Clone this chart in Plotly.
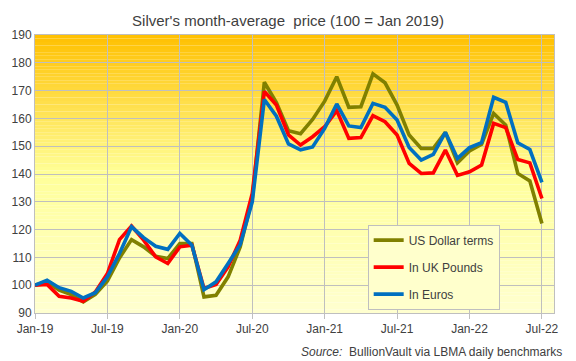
import plotly.graph_objects as go

months = ["Jan-19","Feb-19","Mar-19","Apr-19","May-19","Jun-19","Jul-19","Aug-19","Sep-19","Oct-19","Nov-19","Dec-19",
          "Jan-20","Feb-20","Mar-20","Apr-20","May-20","Jun-20","Jul-20","Aug-20","Sep-20","Oct-20","Nov-20","Dec-20",
          "Jan-21","Feb-21","Mar-21","Apr-21","May-21","Jun-21","Jul-21","Aug-21","Sep-21","Oct-21","Nov-21","Dec-21",
          "Jan-22","Feb-22","Mar-22","Apr-22","May-22","Jun-22","Jul-22"]

usd = [100, 101.2, 98.2, 96.6, 94.0, 96.7, 101.5, 109.8, 116.4, 113.8, 110.4, 109.6,
       115.0, 115.0, 95.8, 96.4, 103.0, 113.8, 131.2, 173.0, 165.7, 155.6, 154.5, 159.6,
       166.2, 175.0, 164.0, 164.2, 176.0, 172.8, 164.8, 154.0, 149.2, 149.2, 155.0, 144.0,
       148.3, 150.7, 161.8, 157.6, 140.2, 137.5, 122.2]
gbp = [100, 100.3, 96.0, 95.4, 94.2, 97.6, 104.2, 116.4, 121.3, 116.2, 110.2, 107.8,
       113.8, 114.4, 98.8, 100.3, 106.6, 116.2, 133.0, 169.7, 164.8, 154.1, 150.4, 153.4,
       157.0, 162.8, 152.8, 153.1, 161.0, 158.8, 154.0, 143.8, 140.2, 140.4, 148.6, 139.5,
       140.8, 143.2, 158.2, 156.7, 145.2, 144.0, 131.2]
eur = [100, 101.8, 99.1, 97.8, 95.4, 97.3, 103.0, 111.4, 121.0, 117.1, 114.0, 112.9,
       118.6, 114.4, 98.4, 101.2, 107.8, 114.6, 130.0, 166.8, 160.8, 150.8, 148.7, 149.7,
       156.4, 165.2, 157.3, 156.7, 165.4, 164.0, 159.4, 149.5, 145.0, 147.1, 155.0, 145.6,
       149.5, 151.3, 167.6, 165.8, 151.2, 148.8, 137.0]

series_names = ["US Dollar terms", "In UK Pounds", "In Euros"]
series_colors = ["#808000", "#FF0000", "#0070C0"]

tick_idx = [0, 6, 12, 18, 24, 30, 36, 42]
tick_labels = [months[i] for i in tick_idx]

x = list(range(len(months)))

fig = go.Figure()
for i, (name, vals, col) in enumerate(zip(series_names, [usd, gbp, eur], series_colors)):
    fig.add_trace(go.Scatter(x=x, y=vals, mode="lines", name=name,
                             line=dict(color=col, width=3.6), legendgroup=f"g{i}",
                             hovertext=months))

# vertical gradient background (top orange -> pale yellow)
stops = [(0.0, (0xFF, 0xC0, 0x00)), (0.5, (0xFF, 0xFF, 0x99)), (1.0, (0xFF, 0xFF, 0xD0))]
def grad(t):
    for (t0, c0), (t1, c1) in zip(stops[:-1], stops[1:]):
        if t <= t1:
            u = (t - t0) / (t1 - t0)
            return tuple(int(round(c0[j] + (c1[j] - c0[j]) * u)) for j in range(3))
    return stops[-1][1]

N = 80
shapes = []
for k in range(N):
    y0 = 90 + 100 * k / N
    y1 = 90 + 100 * (k + 1) / N
    t = 1 - (k + 0.5) / N  # 0 at top, 1 at bottom
    c = grad(t)
    shapes.append(dict(type="rect", xref="x", yref="y", x0=0, x1=43, y0=y0, y1=y1,
                       fillcolor="rgb(%d,%d,%d)" % c, line=dict(width=0), layer="below"))

fig.update_layout(
    width=576, height=361,
    margin=dict(l=33, r=22, t=35, b=48),
    paper_bgcolor="white",
    plot_bgcolor="rgba(0,0,0,0)",
    font=dict(family="Liberation Sans, Arial, sans-serif", size=12, color="#404040"),
    title=dict(text="Silver's month-average&nbsp; price (100 = Jan 2019)", x=0.5, xanchor="center",
               y=1 - 21 / 361, yanchor="middle", font=dict(size=15, color="#404040")),
    shapes=shapes,
    showlegend=True,
    legend=dict(x=0.641, y=0.318, xanchor="left", yanchor="top",
                bgcolor="#FFFFCC", bordercolor="#BFBFBF", borderwidth=1,
                traceorder="grouped", tracegroupgap=8,
                font=dict(size=12, color="#404040")),
    annotations=[dict(text="<i>Source:</i>  BullionVault via LBMA daily benchmarks",
                      xref="paper", yref="paper", x=1 + 10 / 521, y=-39 / 278,
                      xanchor="right", yanchor="middle", showarrow=False,
                      font=dict(size=12, color="#404040"))],
)
fig.update_xaxes(range=[0, 43], tickvals=tick_idx, ticktext=tick_labels,
                 showgrid=True, gridcolor="#BFBFBF", gridwidth=1,
                 showline=True, linecolor="#BFBFBF", linewidth=1, mirror=True,
                 ticks="outside", ticklen=5, tickcolor="#BFBFBF", zeroline=False)
fig.update_yaxes(range=[90, 190], dtick=10, showgrid=True, gridcolor="#BFBFBF", gridwidth=1,
                 showline=True, linecolor="#BFBFBF", linewidth=1, mirror=True,
                 ticks="", zeroline=False)

fig.write_html("out.html", config={"displayModeBar": False},
               post_script="document.body.style.margin='0';document.body.style.overflow='hidden';")
